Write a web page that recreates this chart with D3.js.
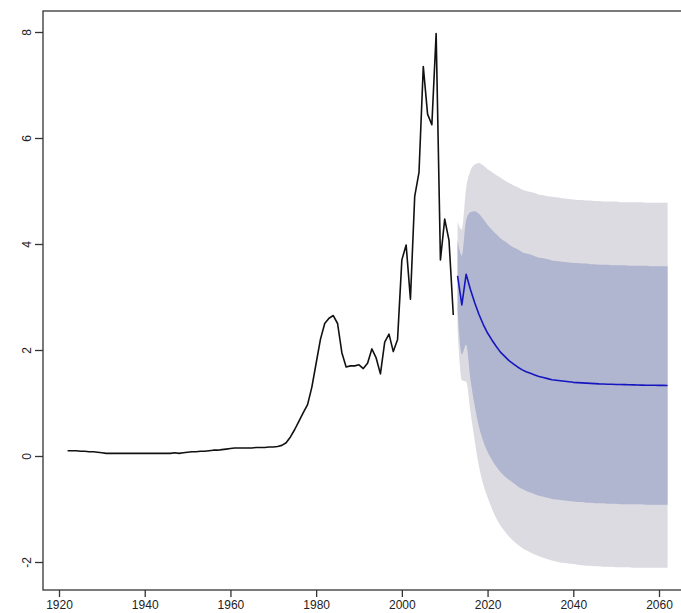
<!DOCTYPE html>
<html>
<head>
<meta charset="utf-8">
<script src="https://cdn.jsdelivr.net/npm/d3@7"></script>
<style>
html,body{margin:0;padding:0;background:#fff;}
svg{display:block;}
text{font-family:"Liberation Sans",Arial,sans-serif;fill:#222;}
</style>
</head>
<body>
<svg id="chart" width="681" height="613"></svg>
<script>
// ---- data ----
const histStart = 1922;
const histValues = [
0.10,0.10,0.10,0.09,0.09,0.08,0.08,0.07,0.06,0.05,
0.05,0.05,0.05,0.05,0.05,0.05,0.05,0.05,0.05,0.05,
0.05,0.05,0.05,0.05,0.05,0.06,0.05,0.06,0.07,0.08,
0.08,0.09,0.09,0.10,0.11,0.11,0.12,0.13,0.14,0.15,
0.15,0.15,0.15,0.15,0.16,0.16,0.16,0.17,0.17,0.18,
0.20,0.25,0.36,0.50,0.66,0.82,0.97,1.30,1.75,2.20,
2.50,2.60,2.65,2.50,1.95,1.68,1.70,1.70,1.72,1.65,
1.75,2.02,1.85,1.55,2.15,2.30,1.97,2.20,3.70,3.98,
2.96,4.90,5.35,7.35,6.45,6.25,7.97,3.70,4.47,4.07,
2.66
];
const fcStart = 2013;
const fcMean = [
3.40,2.85,3.43,3.14,2.89,2.67,2.48,2.32,2.19,2.07,
1.96,1.88,1.80,1.74,1.68,1.63,1.59,1.56,1.53,1.50,
1.48,1.46,1.44,1.43,1.42,1.41,1.40,1.39,1.385,1.38,
1.375,1.37,1.365,1.36,1.358,1.355,1.353,1.35,1.348,1.346,
1.344,1.342,1.34,1.338,1.336,1.335,1.334,1.333,1.332,1.331
];
const hi95 = [
4.42,4.27,5.05,5.38,5.50,5.53,5.48,5.41,5.36,5.30,
5.25,5.20,5.15,5.11,5.07,5.03,5.00,4.98,4.96,4.93,
4.92,4.90,4.89,4.88,4.87,4.86,4.85,4.84,4.83,4.83,
4.82,4.82,4.81,4.81,4.80,4.80,4.80,4.80,4.79,4.79,
4.79,4.79,4.79,4.79,4.78,4.78,4.78,4.78,4.78,4.78
];
const lo95 = [
2.38,1.43,1.40,0.84,0.29,-0.20,-0.54,-0.78,-0.99,-1.17,
-1.31,-1.42,-1.52,-1.60,-1.67,-1.73,-1.78,-1.82,-1.86,-1.89,
-1.92,-1.95,-1.97,-1.99,-2.01,-2.02,-2.03,-2.04,-2.05,-2.06,
-2.07,-2.07,-2.08,-2.08,-2.09,-2.09,-2.09,-2.10,-2.10,-2.10,
-2.10,-2.11,-2.11,-2.11,-2.11,-2.11,-2.11,-2.11,-2.11,-2.11
];
const hi80 = [
4.07,3.78,4.45,4.60,4.62,4.57,4.47,4.36,4.27,4.19,
4.11,4.05,3.99,3.94,3.90,3.85,3.82,3.80,3.77,3.74,
3.73,3.71,3.69,3.68,3.67,3.66,3.65,3.64,3.64,3.63,
3.63,3.62,3.62,3.61,3.61,3.61,3.60,3.60,3.60,3.60,
3.59,3.59,3.59,3.59,3.59,3.58,3.58,3.58,3.58,3.58
];
const lo80 = [
2.73,1.92,2.10,1.45,0.95,0.55,0.28,0.08,-0.07,-0.20,
-0.30,-0.38,-0.45,-0.51,-0.57,-0.62,-0.66,-0.69,-0.72,-0.75,
-0.77,-0.79,-0.81,-0.82,-0.83,-0.84,-0.85,-0.86,-0.87,-0.87,
-0.88,-0.88,-0.89,-0.89,-0.89,-0.90,-0.90,-0.90,-0.91,-0.91,
-0.91,-0.91,-0.91,-0.91,-0.92,-0.92,-0.92,-0.92,-0.92,-0.92
];
const xTicks = [1920,1940,1960,1980,2000,2020,2040,2060];
const yTicks = [-2,0,2,4,6,8];

// ---- layout ----
const svg = d3.select("#chart");
const x = d3.scaleLinear().domain([1920,2060]).range([59,659]);
const y = d3.scaleLinear().domain([0,8]).range([456,32]);
const box = {left:43, top:11, bottom:590, right:700};

const hist = histValues.map((v,i)=>({year:histStart+i, v}));
const fc = fcMean.map((v,i)=>({year:fcStart+i, v, lo95:lo95[i], hi95:hi95[i], lo80:lo80[i], hi80:hi80[i]}));

// bands
svg.append("path").datum(fc)
  .attr("d", d3.area().curve(d3.curveMonotoneX).x(d=>x(d.year)).y0(d=>y(d.lo95)).y1(d=>y(d.hi95)))
  .attr("fill","#dbdbe1");
svg.append("path").datum(fc)
  .attr("d", d3.area().curve(d3.curveMonotoneX).x(d=>x(d.year)).y0(d=>y(d.lo80)).y1(d=>y(d.hi80)))
  .attr("fill","#b0b5d0");

// lines
svg.append("path").datum(fc)
  .attr("d", d3.line().x(d=>x(d.year)).y(d=>y(d.v)))
  .attr("fill","none").attr("stroke","#1616c0").attr("stroke-width",1.6)
  .attr("stroke-linejoin","round");
svg.append("path").datum(hist)
  .attr("d", d3.line().x(d=>x(d.year)).y(d=>y(d.v)))
  .attr("fill","none").attr("stroke","#111").attr("stroke-width",1.6)
  .attr("stroke-linejoin","round");

// box
svg.append("rect")
  .attr("x",box.left).attr("y",box.top)
  .attr("width",box.right-box.left).attr("height",box.bottom-box.top)
  .attr("fill","none").attr("stroke","#333").attr("stroke-width",1.3);

// x axis
const xa = svg.append("g").attr("transform",`translate(0,${box.bottom})`)
  .call(d3.axisBottom(x).tickValues(xTicks).tickFormat(d3.format("d")).tickSize(7).tickPadding(3));
xa.select(".domain").remove();
xa.selectAll("line").attr("stroke","#333").attr("stroke-width",1.3);
xa.selectAll("text").attr("font-size",12).attr("fill","#222").attr("font-family","Liberation Sans, Arial, sans-serif");

// y axis
const ya = svg.append("g").attr("transform",`translate(${box.left},0)`)
  .call(d3.axisLeft(y).tickValues(yTicks).tickSize(8).tickFormat(d3.format("d")));
ya.select(".domain").remove();
ya.selectAll("line").attr("stroke","#333").attr("stroke-width",1.3);
ya.selectAll("text").remove();
ya.selectAll(".tick").append("text")
  .attr("transform","translate(-11,0) rotate(-90)")
  .attr("text-anchor","middle")
  .attr("dy","-0.1em")
  .attr("font-size",12).attr("fill","#222")
  .attr("font-family","Liberation Sans, Arial, sans-serif")
  .text(d=>d);
</script>
</body>
</html>
